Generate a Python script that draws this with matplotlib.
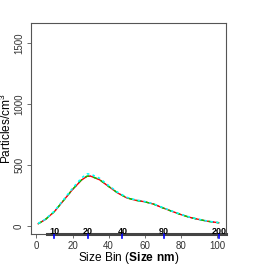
import matplotlib
matplotlib.use("Agg")
from matplotlib import pyplot as plt

plt.rcParams['font.family'] = ['Liberation Sans', 'DejaVu Sans']
plt.rcParams['mathtext.fontset'] = 'custom'
plt.rcParams['mathtext.rm'] = 'Liberation Sans'
plt.rcParams['mathtext.bf'] = 'Liberation Sans:bold'

# size bins and particle counts
bins = [1, 5, 10, 15, 20, 25, 28, 30, 35, 40, 45, 50, 55, 60, 65, 70, 75, 80, 85, 90, 95, 101]
red = [20, 55, 120, 210, 300, 378, 408, 410, 380, 325, 272, 232, 212, 200, 180, 150, 122, 95, 72, 55, 40, 28]
green = [20, 55, 121, 211, 302, 380, 410, 411, 381, 326, 273, 233, 212, 200, 180, 150, 122, 95, 72, 55, 40, 28]
blue = [20, 55, 120, 210, 300, 379, 409, 410, 380, 325, 272, 232, 212, 200, 180, 150, 122, 95, 72, 55, 40, 28]
cyan = [22, 57, 124, 216, 310, 395, 428, 427, 392, 333, 278, 236, 215, 202, 182, 152, 124, 97, 74, 56, 41, 29]

# secondary size labels (nm) and their bin positions
size_labels = ['10', '20', '40', '90', '200']
size_pos = [9.8, 28.7, 47.6, 70.4, 101]

fig = plt.figure(figsize=(2.73, 2.73), dpi=100)
ax = fig.add_axes([31 / 273, 1 - 234 / 273, 195 / 273, 211 / 273])

ax.plot(bins, red, color='red', lw=1.0, zorder=3)
ax.plot(bins, green, color='#00cc00', lw=1.0, ls=(0, (3, 3)), zorder=4)
ax.plot(bins, blue, color='blue', lw=0.8, ls=(0, (1, 3)), zorder=2)
ax.plot(bins, cyan, color='cyan', lw=1.2, ls=(0, (1.5, 2)), zorder=5)

ax.set_xlim(-3, 105)
ax.set_ylim(-64, 1664)
ax.set_xticks([0, 20, 40, 60, 80, 100])
ax.set_yticks([0, 500, 1000, 1500])
for s in ax.spines.values():
    s.set_color('#555555')
    s.set_linewidth(0.8)
ax.tick_params(axis='both', labelsize=7, length=3, width=0.6, color='#555555', labelcolor='#333333', pad=2)
plt.setp(ax.get_yticklabels(), rotation=90, va='center')

ax.set_xlabel('Size Bin ($\\bf{Size\\ nm}$)', fontsize=8.6)
ax.set_ylabel('Particles/cm$^3$', fontsize=8.6)
ax.xaxis.set_label_coords(0.5, -0.075)
ax.yaxis.set_label_coords(-0.088, 0.5)

# thick axis with nm labels along the bottom
ax.plot([5.7, 105], [-64, -64], color='#444444', lw=2.2, clip_on=False, zorder=6)
for p, lab in zip(size_pos, size_labels):
    ax.plot([p, p], [-64, -98], color='blue', lw=1.2, clip_on=False, zorder=7)
    ax.text(p, -42, lab, ha='center', va='center', fontsize=6.5, fontweight='bold', zorder=8)

fig.savefig('out.png', dpi=100)
